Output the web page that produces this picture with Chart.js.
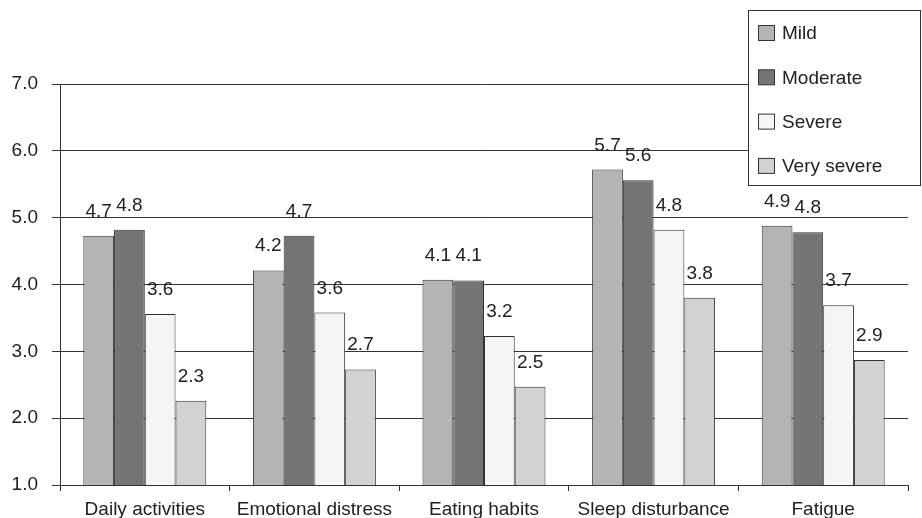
<!DOCTYPE html>
<html>
<head>
<meta charset="utf-8">
<script src="https://cdn.jsdelivr.net/npm/chart.js@4/dist/chart.umd.min.js"></script>
<style>
  html, body { margin: 0; padding: 0; background: #fff; }
  #wrap { width: 922px; height: 518px; }
</style>
</head>
<body>
<div id="wrap"><canvas id="chart" width="922" height="518"></canvas></div>
<script>
const categories = ['Daily activities', 'Emotional distress', 'Eating habits', 'Sleep disturbance', 'Fatigue'];
const seriesNames = ['Mild', 'Moderate', 'Severe', 'Very severe'];
const mild = [4.73, 4.21, 4.07, 5.72, 4.88];
const moderate = [4.82, 4.73, 4.06, 5.56, 4.78];
const severe = [3.56, 3.58, 3.23, 4.82, 3.69];
const verySevere = [2.26, 2.73, 2.47, 3.8, 2.87];
const yTicks = [1, 2, 3, 4, 5, 6, 7];

const colors = ['#b3b4b6', '#737476', '#f5f5f5', '#d1d2d4'];
const FONT = '"Liberation Sans", Arial, Helvetica, sans-serif';
const INK = '#222';
const LINE = '#333';

// value labels above each bar
const valueLabels = {
  id: 'valueLabels',
  afterDatasetsDraw(chart) {
    const ctx = chart.ctx;
    ctx.save();
    ctx.font = `19px ${FONT}`;
    ctx.fillStyle = INK;
    ctx.textAlign = 'center';
    ctx.textBaseline = 'alphabetic';
    chart.data.datasets.forEach((ds, i) => {
      chart.getDatasetMeta(i).data.forEach((bar, j) => {
        ctx.fillText(ds.data[j].toFixed(1), bar.x, bar.y - 19);
      });
    });
    ctx.restore();
  }
};

// boxed legend sitting over the top right of the plot
const boxLegend = {
  id: 'boxLegend',
  afterDraw(chart) {
    const ctx = chart.ctx;
    const x = 748, y = 10, w = 172, h = 175;
    ctx.save();
    ctx.fillStyle = '#fff';
    ctx.fillRect(x, y, w, h);
    ctx.strokeStyle = LINE;
    ctx.lineWidth = 1;
    ctx.strokeRect(x + 0.5, y + 0.5, w, h);
    ctx.font = `19px ${FONT}`;
    ctx.textBaseline = 'middle';
    chart.data.datasets.forEach((ds, i) => {
      const cy = 33 + i * 44.3;
      ctx.fillStyle = ds.backgroundColor;
      ctx.fillRect(758.5, cy - 7.5, 16, 15);
      ctx.strokeStyle = LINE;
      ctx.strokeRect(758.5, cy - 7.5, 16, 15);
      ctx.fillStyle = INK;
      ctx.fillText(ds.label, 782, cy + 1);
    });
    ctx.restore();
  }
};

const seriesData = [mild, moderate, severe, verySevere];

new Chart(document.getElementById('chart'), {
  type: 'bar',
  data: {
    labels: categories,
    datasets: seriesNames.map((name, i) => ({
      label: name,
      data: seriesData[i],
      backgroundColor: colors[i],
      borderColor: LINE,
      borderWidth: 1,
      categoryPercentage: 0.725,
      barPercentage: 1.0
    }))
  },
  options: {
    responsive: false,
    animation: false,
    layout: { padding: { top: 84, right: 14, left: 0, bottom: 0 } },
    plugins: {
      legend: { display: false },
      tooltip: { enabled: false }
    },
    scales: {
      x: {
        afterFit: (scale) => { scale.height = 33; },
        grid: { drawOnChartArea: false, drawTicks: true, tickLength: 6, color: LINE, offset: true },
        border: { display: true, color: LINE, width: 1 },
        ticks: { color: INK, font: { family: FONT, size: 19 }, padding: 7, maxRotation: 0, autoSkip: false }
      },
      y: {
        min: 1,
        max: 7,
        afterFit: (scale) => { scale.width = 60; },
        afterBuildTicks: (scale) => { scale.ticks = yTicks.map(v => ({ value: v })); },
        grid: { color: LINE, lineWidth: 1, tickLength: 8 },
        border: { display: true, color: LINE, width: 1 },
        ticks: {
          color: INK,
          font: { family: FONT, size: 19 },
          padding: 14,
          callback: (v) => Number(v).toFixed(1)
        }
      }
    }
  },
  plugins: [valueLabels, boxLegend]
});
</script>
</body>
</html>
